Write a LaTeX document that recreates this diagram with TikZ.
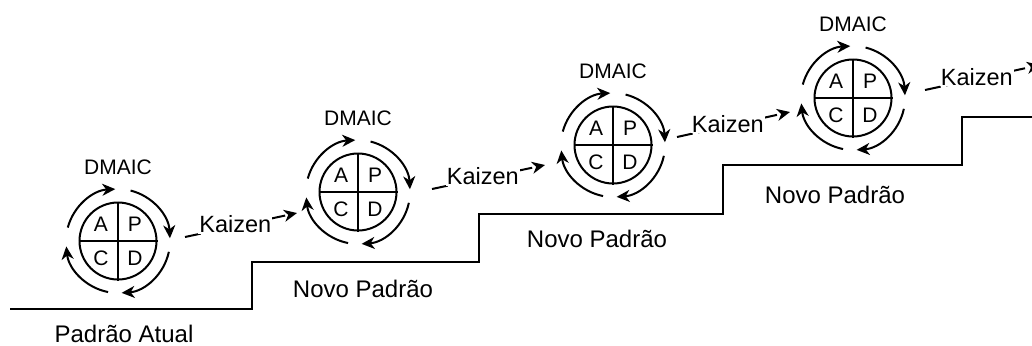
\documentclass[tikz,border=0pt]{standalone}
\usepackage{fontspec}
\setmainfont{Liberation Sans}
\usetikzlibrary{arrows.meta,calc}

\tikzset{
  pdca/.style={draw, circle, line width=1pt, minimum size=38.5pt, inner sep=0pt},
  quad/.style={font=\fontsize{10.5}{12}\selectfont, inner sep=0pt},
  title/.style={font=\fontsize{10.5}{12}\selectfont, inner sep=0pt},
  level/.style={font=\fontsize{12}{14}\selectfont, inner sep=0pt, anchor=base},
  turn/.style={line width=1pt, -{Stealth[length=6.5pt,width=6pt,inset=2pt]}},
  kaizen/.style={line width=1pt, dash pattern=on 8pt off 2.8pt, -{Stealth[length=6.5pt,width=6pt,inset=2pt]}},
  klabel/.style={font=\fontsize{11.75}{13}\selectfont, fill=white, inner sep=0.5pt, pos=0.45, yshift=1pt}
}

\begin{document}
\begin{tikzpicture}[x=0.5pt,y=0.5pt]
\useasboundingbox (0,0) rectangle (1032,345);

% patamares
\draw[line width=1pt] (10,36) -- (252,36) -- (252,83) -- (479,83) -- (479,131)
  -- (723,131) -- (723,180) -- (962,180) -- (962,228) -- (1045,228);
\node[level] (std0) at (124,3) {Padrão Atual};
\node[level] (std1) at (363,48) {Novo Padrão};
\node[level] (std2) at (597,98) {Novo Padrão};
\node[level] (std3) at (835,142) {Novo Padrão};

% ciclo 1
\node[pdca] (c1) at (118,104) {};
\draw[line width=1pt] (c1.north) -- (c1.south);
\draw[line width=1pt] (c1.west) -- (c1.east);
\node[quad] (a1) at (101,121) {A};
\node[quad] (p1) at (135,121) {P};
\node[quad] (k1) at (101,87) {C};
\node[quad] (d1) at (135,87) {D};
\node[title] (t1) at (118,178) {DMAIC};
\draw[turn] ($(c1)+(165:52)$) arc[start angle=165,end angle=93,radius=26pt];
\draw[turn] ($(c1)+(76:52)$) arc[start angle=76,end angle=3,radius=26pt];
\draw[turn] ($(c1)+(-12:52)$) arc[start angle=-12,end angle=-86,radius=26pt];
\draw[turn] ($(c1)+(-101:52)$) arc[start angle=-101,end angle=-174,radius=26pt];

% ciclo 2
\node[pdca] (c2) at (358,153) {};
\draw[line width=1pt] (c2.north) -- (c2.south);
\draw[line width=1pt] (c2.west) -- (c2.east);
\node[quad] (a2) at (341,170) {A};
\node[quad] (p2) at (375,170) {P};
\node[quad] (k2) at (341,136) {C};
\node[quad] (d2) at (375,136) {D};
\node[title] (t2) at (358,227) {DMAIC};
\draw[turn] ($(c2)+(165:52)$) arc[start angle=165,end angle=93,radius=26pt];
\draw[turn] ($(c2)+(76:52)$) arc[start angle=76,end angle=3,radius=26pt];
\draw[turn] ($(c2)+(-12:52)$) arc[start angle=-12,end angle=-86,radius=26pt];
\draw[turn] ($(c2)+(-101:52)$) arc[start angle=-101,end angle=-174,radius=26pt];

% ciclo 3
\node[pdca] (c3) at (613,200) {};
\draw[line width=1pt] (c3.north) -- (c3.south);
\draw[line width=1pt] (c3.west) -- (c3.east);
\node[quad] (a3) at (596,217) {A};
\node[quad] (p3) at (630,217) {P};
\node[quad] (k3) at (596,183) {C};
\node[quad] (d3) at (630,183) {D};
\node[title] (t3) at (613,274) {DMAIC};
\draw[turn] ($(c3)+(165:52)$) arc[start angle=165,end angle=93,radius=26pt];
\draw[turn] ($(c3)+(76:52)$) arc[start angle=76,end angle=3,radius=26pt];
\draw[turn] ($(c3)+(-12:52)$) arc[start angle=-12,end angle=-86,radius=26pt];
\draw[turn] ($(c3)+(-101:52)$) arc[start angle=-101,end angle=-174,radius=26pt];

% ciclo 4
\node[pdca] (c4) at (853,247) {};
\draw[line width=1pt] (c4.north) -- (c4.south);
\draw[line width=1pt] (c4.west) -- (c4.east);
\node[quad] (a4) at (836,264) {A};
\node[quad] (p4) at (870,264) {P};
\node[quad] (k4) at (836,230) {C};
\node[quad] (d4) at (870,230) {D};
\node[title] (t4) at (853,321) {DMAIC};
\draw[turn] ($(c4)+(165:52)$) arc[start angle=165,end angle=93,radius=26pt];
\draw[turn] ($(c4)+(76:52)$) arc[start angle=76,end angle=3,radius=26pt];
\draw[turn] ($(c4)+(-12:52)$) arc[start angle=-12,end angle=-86,radius=26pt];
\draw[turn] ($(c4)+(-101:52)$) arc[start angle=-101,end angle=-174,radius=26pt];

% kaizen
\coordinate (z1s) at (185,108);
\coordinate (z1e) at (297,132);
\draw[kaizen] (z1s) -- node[klabel] (z1) {Kaizen} (z1e);
\coordinate (z2s) at (432,156);
\coordinate (z2e) at (545,180);
\draw[kaizen] (z2s) -- node[klabel] (z2) {Kaizen} (z2e);
\coordinate (z3s) at (677,208);
\coordinate (z3e) at (790,233);
\draw[kaizen] (z3s) -- node[klabel] (z3) {Kaizen} (z3e);
\coordinate (z4s) at (925,255);
\coordinate (z4e) at (1040,280);
\draw[kaizen] (z4s) -- node[klabel] (z4) {Kaizen} (z4e);
\end{tikzpicture}
\end{document}
